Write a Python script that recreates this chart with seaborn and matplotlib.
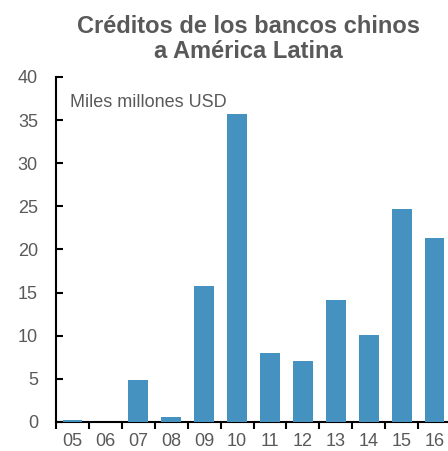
import matplotlib
matplotlib.use("Agg")
import matplotlib.pyplot as plt
import seaborn as sns
import pandas as pd
from matplotlib.ticker import FixedLocator

years = ["05", "06", "07", "08", "09", "10", "11", "12", "13", "14", "15", "16"]
credits = [0.25, 0.0, 4.9, 0.6, 15.8, 35.7, 8.0, 7.1, 14.1, 10.1, 24.7, 21.3]
yticks = [0, 5, 10, 15, 20, 25, 30, 35, 40]

sns.set_style("white")
plt.rcParams['font.family'] = ['Liberation Sans', 'DejaVu Sans']

df = pd.DataFrame({"year": years, "value": credits})
grey = "#595959"

fig = plt.figure(figsize=(4.48, 4.51), dpi=100)
ax = fig.add_axes([56/448, 1-422/451, (451-56)/448, (422-77)/451])
sns.barplot(data=df, x="year", y="value", color="#4592C1", saturation=1,
            width=0.6, ax=ax, zorder=3, linewidth=0)

ax.set_xlim(-0.5, len(years) - 0.5)
ax.set_ylim(0, 40)
ax.set_yticks(yticks)
ax.set_xlabel("")
ax.set_ylabel("")
for s in ["top", "right"]:
    ax.spines[s].set_visible(False)
for s in ["left", "bottom"]:
    ax.spines[s].set_color("black")
    ax.spines[s].set_linewidth(1.5)

ax.tick_params(axis="y", direction="in", length=5, width=1.5, color="black",
               labelsize=13, labelcolor=grey, pad=13, left=True)
ax.tick_params(axis="x", which="major", length=0, labelsize=13,
               labelcolor=grey, pad=8)
ax.xaxis.set_minor_locator(FixedLocator([i - 0.5 for i in range(len(years) + 1)]))
ax.tick_params(axis="x", which="minor", direction="out", length=5, width=1.5,
               color="black", bottom=True)

ax.text(0.035, 0.925, "Miles millones USD", transform=ax.transAxes,
        fontsize=13, color=grey, ha="left", va="center")

fig.text(248/448, 1-39/451, "Créditos de los bancos chinos\na América Latina",
         ha="center", va="center", fontsize=17, fontweight="bold",
         color=grey, linespacing=1.15)

fig.savefig("out.png", dpi=100)
